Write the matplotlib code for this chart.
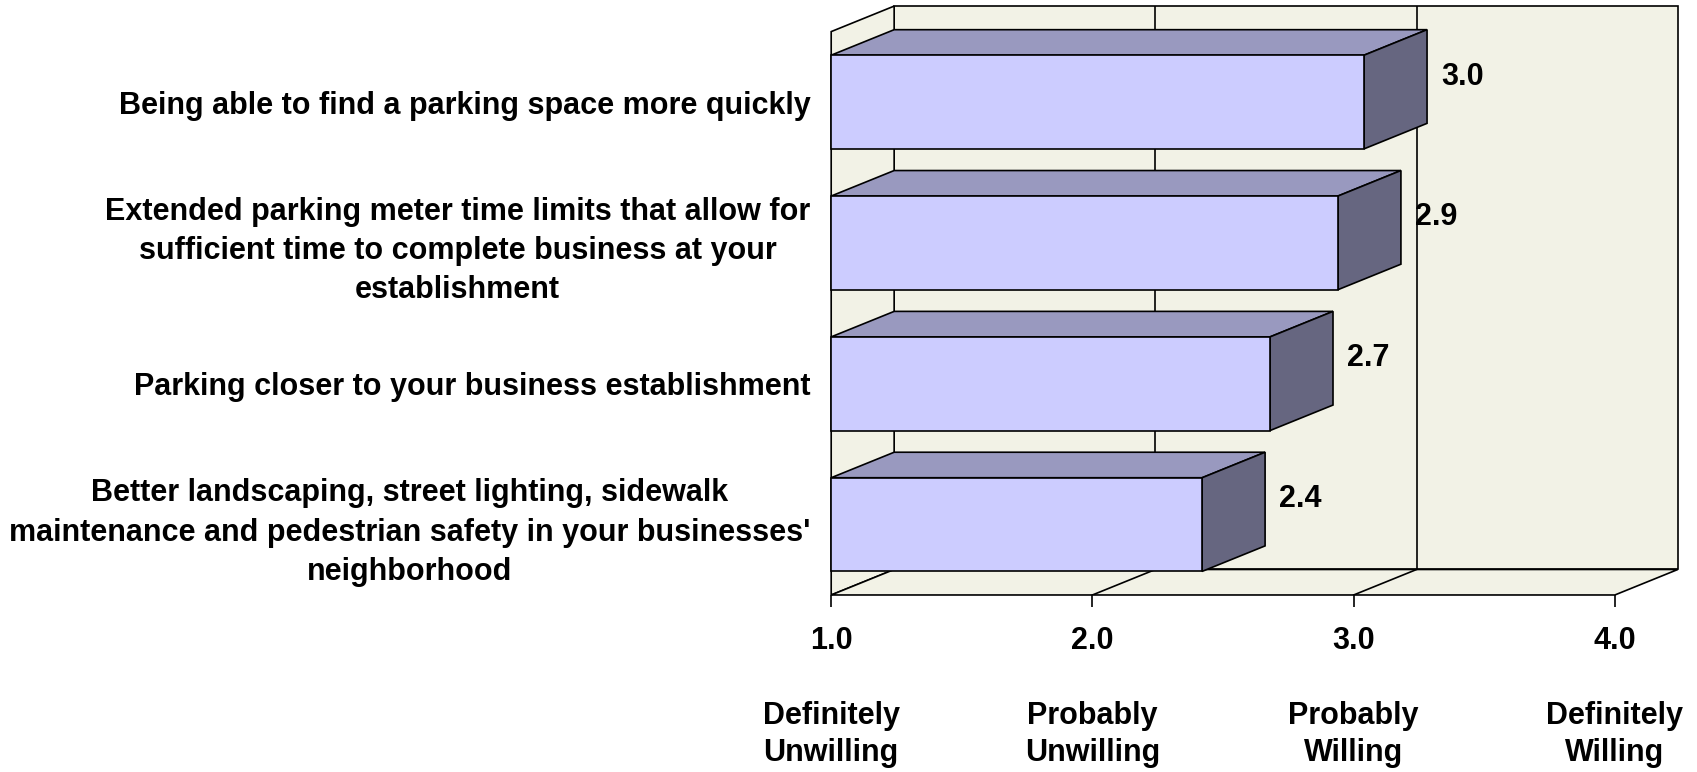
import matplotlib.pyplot as plt
from matplotlib.patches import Polygon, Rectangle

categories = [
    "Being able to find a parking space more quickly",
    "Extended parking meter time limits that allow for\nsufficient time to complete business at your\nestablishment",
    "Parking closer to your business establishment",
    "Better landscaping, street lighting, sidewalk\nmaintenance and pedestrian safety in your businesses'\nneighborhood",
]
values = [3.04, 2.94, 2.68, 2.42]
scale_ticks = [1.0, 2.0, 3.0, 4.0]
scale_names = ["Definitely\nUnwilling", "Probably\nUnwilling", "Probably\nWilling", "Definitely\nWilling"]

plt.rcParams['font.family'] = ['Liberation Sans', 'DejaVu Sans']
plt.rcParams['font.weight'] = 'bold'

front_c = '#CCCCFF'
top_c = '#9999BF'
side_c = '#666680'
wall_c = '#F2F2E6'
lw = 1.2

DX = 0.241   # depth offset along value axis
DY = 0.181   # depth offset along category axis
bar_h = 0.665
n = len(categories)
x0, x1 = scale_ticks[0], scale_ticks[-1]
ytop, ybot = -0.5, n - 0.5

fig = plt.figure(figsize=(16.97, 7.72), dpi=100)
ax = fig.add_axes([0.4898, 0.2293, 0.4989, 0.7628])
ax.set_xlim(x0, x1 + DX)
ax.set_ylim(ybot, ytop - DY)
ax.patch.set_visible(False)
for s in ax.spines.values():
    s.set_visible(False)

# walls and floor
ax.add_patch(Rectangle((x0 + DX, ytop - DY), x1 - x0, ybot - ytop,
                       fc=wall_c, ec='black', lw=lw, zorder=1, clip_on=False))
ax.add_patch(Polygon([(x0, ytop), (x0 + DX, ytop - DY), (x0 + DX, ybot - DY), (x0, ybot)],
                     fc=wall_c, ec='black', lw=lw, zorder=1, clip_on=False))
ax.add_patch(Polygon([(x0, ybot), (x1, ybot), (x1 + DX, ybot - DY), (x0 + DX, ybot - DY)],
                     fc=wall_c, ec='black', lw=lw, zorder=1, clip_on=False))
for t in scale_ticks[1:-1]:
    ax.plot([t + DX, t + DX], [ytop - DY, ybot - DY], color='black', lw=lw, zorder=2)
    ax.plot([t, t + DX], [ybot, ybot - DY], color='black', lw=lw, zorder=2)

# 3D bars
for i, v in enumerate(values):
    top, bot = i - bar_h / 2, i + bar_h / 2
    ax.add_patch(Polygon([(x0, top), (v, top), (v + DX, top - DY), (x0 + DX, top - DY)],
                         fc=top_c, ec='black', lw=lw, zorder=3, clip_on=False))
    ax.add_patch(Polygon([(v, top), (v + DX, top - DY), (v + DX, bot - DY), (v, bot)],
                         fc=side_c, ec='black', lw=lw, zorder=3, clip_on=False))
    ax.add_patch(Rectangle((x0, top), v - x0, bar_h,
                           fc=front_c, ec='black', lw=lw, zorder=4, clip_on=False))
    ax.annotate(f"{v:.1f}", xy=(v + DX, i - DY), xytext=(10, 0),
                textcoords='offset points', ha='left', va='center',
                fontsize=22, fontweight='bold', zorder=5)

ax.set_yticks(range(n))
ax.set_yticklabels(categories, fontsize=22, fontweight='bold', linespacing=1.4)
for lbl in ax.get_yticklabels():
    lbl.set_multialignment('center')
ax.tick_params(axis='y', length=0, pad=15)

ax.set_xticks(scale_ticks)
ax.set_xticklabels([f"{t:.1f}\n\n{nm}" for t, nm in zip(scale_ticks, scale_names)],
                   fontsize=22, fontweight='bold', linespacing=1.31)
ax.tick_params(axis='x', length=8.6, width=lw, pad=14, direction='out')

fig.savefig('out.png', dpi=100)
